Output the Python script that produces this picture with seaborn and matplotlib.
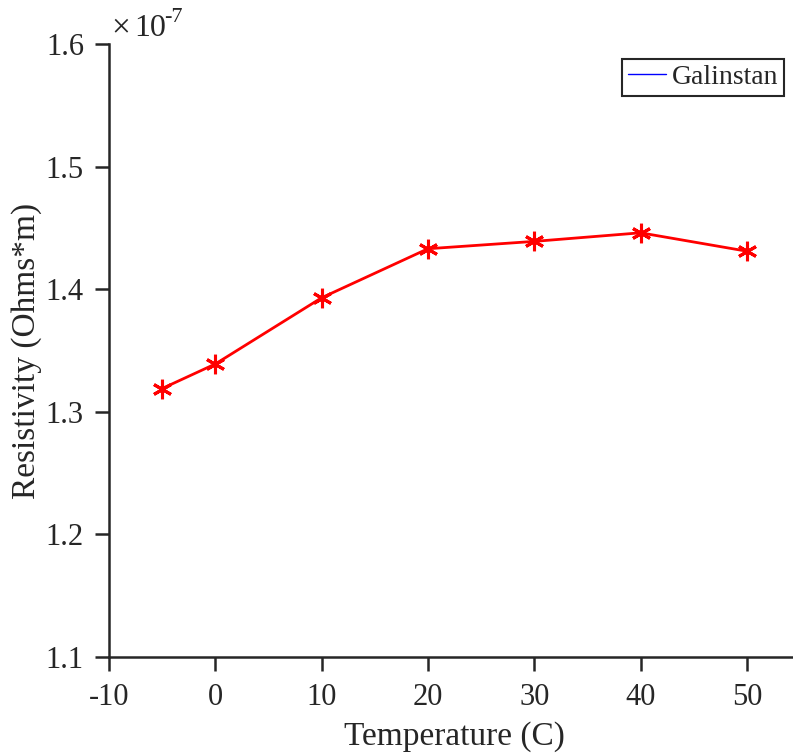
import matplotlib
matplotlib.use("Agg")
import matplotlib.pyplot as plt
from matplotlib.lines import Line2D
import seaborn as sns
import pandas as pd

# Measured resistivity of Galinstan versus temperature
temperature_c = [-5, 0, 10, 20, 30, 40, 50]
resistivity_e7 = [1.319, 1.339, 1.393, 1.433, 1.439, 1.446, 1.431]  # units of 1e-7 Ohm*m
series_name = "Galinstan"
x_ticks = [-10, 0, 10, 20, 30, 40, 50]
y_ticks = [1.1, 1.2, 1.3, 1.4, 1.5, 1.6]

df = pd.DataFrame({"Temperature": temperature_c, "Resistivity": resistivity_e7})

sns.set_theme(style="ticks")
ink = "#262626"
plt.rcParams.update({
    "font.family": ["Liberation Serif", "DejaVu Serif"],
    "axes.edgecolor": ink,
    "axes.labelcolor": ink,
    "xtick.color": ink,
    "ytick.color": ink,
    "text.color": ink,
})

fig = plt.figure(figsize=(7.93, 7.55), dpi=100)
ax = fig.add_axes([109 / 793, 98 / 755, 691 / 793, 613 / 755])

sns.lineplot(data=df, x="Temperature", y="Resistivity", ax=ax,
             color="red", linewidth=2.0, marker=(6, 2, 0),
             markersize=14, markeredgewidth=2.2, markeredgecolor="red",
             legend=False)

ax.set_xlim(-10, 55)
ax.set_ylim(1.1, 1.6)
ax.set_xticks(x_ticks)
ax.set_xticklabels([str(t) for t in x_ticks])
ax.set_yticks(y_ticks)
ax.set_yticklabels([f"{t:.1f}" for t in y_ticks])

for side in ("top", "right"):
    ax.spines[side].set_visible(False)
for side in ("left", "bottom"):
    ax.spines[side].set_linewidth(1.8)
ax.tick_params(axis="both", direction="out", length=10, width=1.8, labelsize=22)
ax.tick_params(axis="x", pad=9)
ax.tick_params(axis="y", pad=8)

ax.set_xlabel("Temperature (C)", fontsize=24, labelpad=6)
ax.set_ylabel("Resistivity (Ohms*m)", fontsize=24, labelpad=3)

# exponent marker for the y axis
fig.text(111 / 793, 1 - 36 / 755, "×", fontsize=24, ha="left", va="baseline")
fig.text(134 / 793, 1 - 36 / 755, "10", fontsize=23, ha="left", va="baseline")
fig.text(164 / 793, 1 - 22 / 755, "-7", fontsize=16, ha="left", va="baseline")

handle = Line2D([0], [0], color="blue", linewidth=1.0)
leg = fig.legend([handle], [series_name], loc="upper right",
                 bbox_to_anchor=(784 / 793, 1 - 59 / 755),
                 fontsize=20, frameon=True, fancybox=False,
                 handlelength=1.4, handletextpad=0.2, borderpad=0.2,
                 borderaxespad=0.0)
leg.get_frame().set_edgecolor(ink)
leg.get_frame().set_linewidth(1.5)
leg.get_frame().set_alpha(1.0)

fig.savefig("out.png", dpi=100)
